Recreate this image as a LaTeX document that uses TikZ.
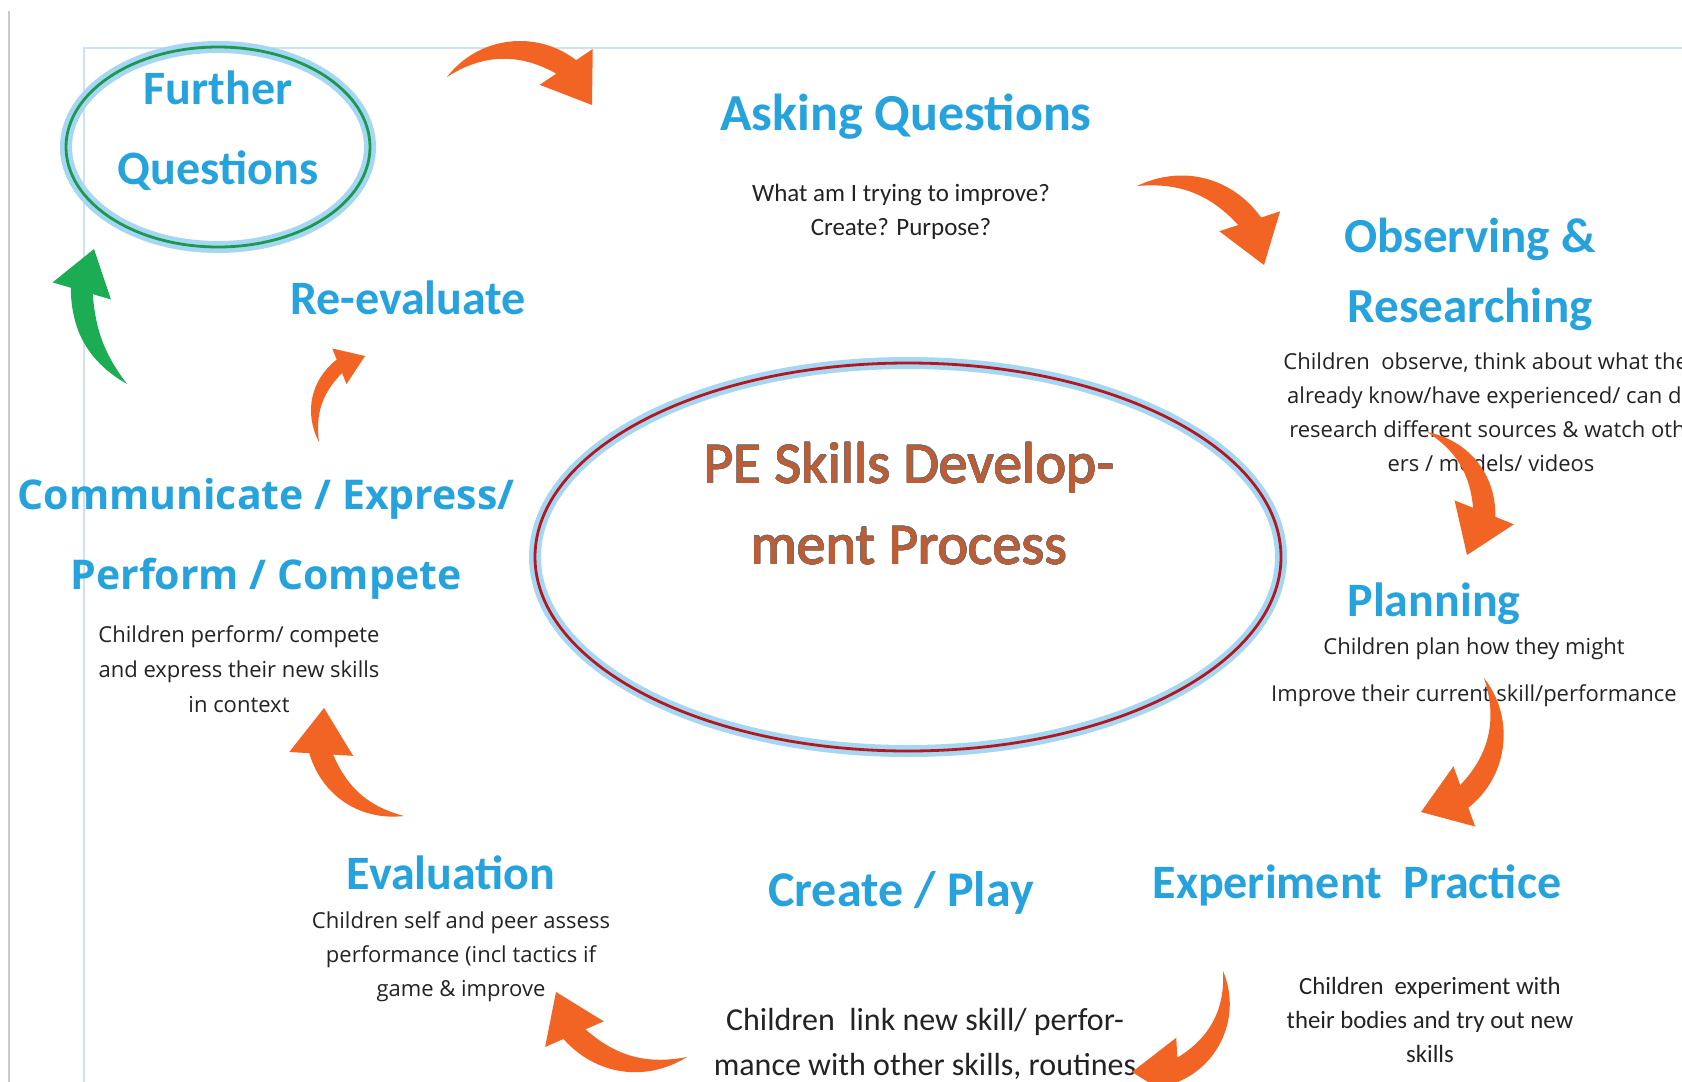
\documentclass[tikz,border=0pt]{standalone}
\usepackage{fontspec}
\usepackage{contour}
\setmainfont{Carlito}
\newfontfamily\opensans{Open Sans}
\usetikzlibrary{arrows.meta,shapes.geometric,calc}
\contourlength{0.25pt}

\definecolor{headblue}{RGB}{38,162,221}
\definecolor{flowor}{RGB}{241,100,36}
\definecolor{backgreen}{RGB}{28,172,84}
\definecolor{ringred}{RGB}{178,24,32}
\definecolor{ringgreen}{RGB}{30,152,80}
\definecolor{glow}{RGB}{165,214,242}
\definecolor{hubbrown}{RGB}{190,92,52}
\definecolor{hubedge}{RGB}{120,110,105}
\definecolor{bodytext}{RGB}{35,35,35}
\definecolor{frameblue}{RGB}{208,226,242}

\newcommand{\setsz}[2]{\fontsize{#1}{#2}\selectfont}

% curved block arrow with pointed tail:
% \blockarrow[colour]{tail}{tip}{bend}{scale}
\newcommand{\blockarrow}[5][flowor]{%
  \pgfmathsetmacro\innerbend{#4-14}%
  \pgfmathsetlengthmacro\hlen{23pt*#5}%
  \pgfmathsetlengthmacro\hwid{16pt*#5}%
  \pgfmathsetlengthmacro\bwid{6pt*#5}%
  \coordinate (base) at ($(#3)!\hlen!-#4:(#2)$);
  \fill[#1] (#2) to[bend left=#4] ($(base)!\bwid!90:(#3)$)
    -- ($(base)!\hwid!90:(#3)$) -- (#3) -- ($(base)!\hwid!-90:(#3)$)
    -- ($(base)!\bwid!-90:(#3)$) to[bend right=\innerbend] (#2) -- cycle;
}

\tikzset{
  head/.style={text=headblue, inner sep=0pt, align=center, font=\bfseries\setsz{#1}{40}},
  head/.default=24,
  ohead/.style={text=headblue, inner sep=0pt, align=center, font=\opensans\bfseries\setsz{#1}{40}},
  ohead/.default=20.5,
  body/.style={text=bodytext, inner sep=0pt, align=center, font=\setsz{#1}{17}},
  body/.default=12.5,
  obody/.style={text=bodytext, inner sep=0pt, align=center, font=\opensans\setsz{#1}{17}},
  obody/.default=11,
  ring/.style={ellipse, draw=#1, line width=1.4pt,
    preaction={draw=glow, line width=6pt}},
}

\begin{document}
\begin{tikzpicture}[x=0.5pt,y=-0.5pt]
\useasboundingbox (0,0) rectangle (1682,1082);
\fill[white] (0,0) rectangle (1682,1082);

% page edges
\draw[black!20, line width=0.6pt] (9,11) -- (9,1082);
\draw[frameblue, line width=0.6pt] (84,1082) |- (1682,48);

% rings
\node[ring=ringgreen, minimum width=152pt, minimum height=100pt] (fqring) at (218,147) {};
\node[ring=ringred, minimum width=373pt, minimum height=194pt] (hubring) at (908,557) {};

% stages
\node[head] (fq) at (218,131) {Further\\Questions};
\node[head=26] (ask) at (906,117) {Asking Questions};
\node[body] (askbody) at (901,212) {What am I trying to improve?\\Create? Purpose?};
\node[head, font=\bfseries\setsz{24.5}{35}] (obs) at (1470,274) {Observing \&\\Researching};
\node[obody] (obsbody) at (1491,412) {Children\ \ observe, think about what they\\already know/have experienced/ can do\\research different sources \& watch oth-\\ers / models/ videos};
\node[head] (plan) at (1434,604) {Planning};
\node[obody, font=\opensans\setsz{11}{23.5}] (planbody) at (1474,672) {Children plan how they might\\Improve their current skill/performance};
\node[head] (exp) at (1357,885) {Experiment\ \ Practice};
\node[body=12.4] (expbody) at (1430,1020) {Children\ \ experiment with\\their bodies and try out new\\skills};
\node[head=25] (play) at (901,893) {Create / Play};
\node[body, font=\setsz{16}{22.5}] (playbody) at (925,1044) {Children\ \ link new skill/ perfor-\\mance with other skills, routines};
\node[head] (eval) at (451,873) {Evaluation};
\node[obody] (evalbody) at (461,957) {Children self and peer assess\\performance (incl tactics if\\game \& improve};
\node[ohead] (comm) at (266,539) {Communicate / Express/\\Perform / Compete};
\node[obody, font=\opensans\setsz{11}{17.5}] (commbody) at (239,669) {Children perform/ compete\\and express their new skills\\in context};
\node[head] (reeval) at (408,298) {Re-evaluate};
\node[text=hubbrown, inner sep=0pt, align=center, font=\setsz{29}{40.5}] (hub) at (909,504)
  {\contour{hubedge}{PE Skills Develop-}\\\contour{hubedge}{ment Process}};

% arrow tails and tips
\coordinate (t1) at (447,77);   \coordinate (h1) at (592,105);
\coordinate (t2) at (1137,186); \coordinate (h2) at (1264,265);
\coordinate (t3) at (1427,432); \coordinate (h3) at (1467,555);
\coordinate (t4) at (1484,678); \coordinate (h4) at (1421,812);
\coordinate (t5) at (1223,971); \coordinate (h5) at (1132,1072);
\coordinate (t6) at (687,1057); \coordinate (h6) at (556,992);
\coordinate (t7) at (404,816);  \coordinate (h7) at (324,708);
\coordinate (t8) at (319,442);  \coordinate (h8) at (365,356);
\coordinate (t9) at (127,384);  \coordinate (h9) at (94,249);

\foreach \i/\b in {1/45,2/40,3/40,4/45,5/45,6/40,7/40}
  {\blockarrow{t\i}{h\i}{\b}{1}}
\blockarrow{t8}{h8}{40}{0.6}
\blockarrow[backgreen]{t9}{h9}{30}{0.95}
\end{tikzpicture}
\end{document}
